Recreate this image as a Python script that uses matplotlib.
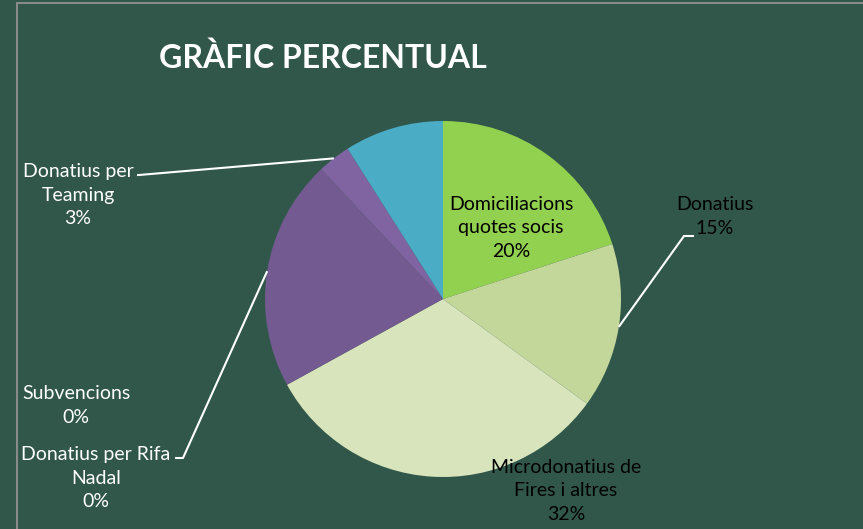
import numpy as np
import matplotlib.pyplot as plt
from matplotlib.patches import Rectangle

# slices, clockwise from the top
categories = ["Domiciliacions quotes socis", "Donatius", "Microdonatius de Fires i altres",
              "Subvencions", "Donatius per Rifa Nadal", "Altres", "Donatius per Teaming", "Altres 2"]
values = [20, 15, 32, 0, 0, 21, 3, 9]
colors = ["#92D050", "#C4D79B", "#D8E4BC", "#8064A2", "#8064A2", "#735A90", "#8064A2", "#4BACC6"]

label_text = {
    0: "Domiciliacions\nquotes socis\n20%",
    1: "Donatius\n15%",
    2: "Microdonatius de\nFires i altres\n32%",
    3: "Subvencions\n0%",
    4: "Donatius per Rifa\nNadal\n0%",
    6: "Donatius per\nTeaming\n3%",
}

W, H = 863, 529
bg = "#30574A"
plt.rcParams['font.family'] = ['Lato', 'DejaVu Sans']

fig = plt.figure(figsize=(W / 100, H / 100), dpi=100, facecolor=bg)
ax = fig.add_axes([0, 0, 1, 1])
ax.set_facecolor(bg)

cx, cy, r = 443, H - 299, 178
wedges, _ = ax.pie(values, colors=colors, startangle=90, counterclock=False,
                   center=(cx, cy), radius=r, wedgeprops=dict(linewidth=0))
ax.set_xlim(0, W)
ax.set_ylim(0, H)
ax.set_aspect('auto')
ax.axis('off')

# chart border
ax.add_patch(Rectangle((17, -10), W, H - 3 + 10, fill=False, edgecolor="#8A8A8A",
                       linewidth=1.5, clip_on=False))

ax.text(323, H - 58, "GRÀFIC PERCENTUAL", color="white", fontsize=23, fontweight="bold",
        ha="center", va="center")


def edge_point(i):
    w = wedges[i]
    a = np.deg2rad((w.theta1 + w.theta2) / 2)
    return cx + r * np.cos(a), cy + r * np.sin(a)


fs = 14
# labels: (index, text centre x, top-line y in pixels from top, colour)
label_pos = [
    (0, 511, 203, "black"),
    (1, 715, 204, "black"),
    (2, 566, 466, "black"),
    (3, 76, 393, "white"),
    (4, 96, 453, "white"),
    (6, 78, 170, "white"),
]
for i, x, y, c in label_pos:
    txt = label_text[i]
    n = txt.count("\n") + 1
    yc = H - (y + (n - 1) * 25 / 2)
    ax.text(x, yc, txt, color=c, fontsize=fs, ha="center", va="center", linespacing=1.45)

# leader lines: (wedge index, elbow, end)
leaders = [
    (1, (684, 236), (694, 236)),
    (5, (183, 458), (175, 458)),
    (6, (139, 175), (137, 175)),
]
for i, elbow, end in leaders:
    x0, y0 = edge_point(i)
    ax.plot([x0, elbow[0], end[0]], [y0, H - elbow[1], H - end[1]], color="white", lw=1.5,
            solid_capstyle="butt")

fig.savefig("out.png", dpi=100, facecolor=bg)
